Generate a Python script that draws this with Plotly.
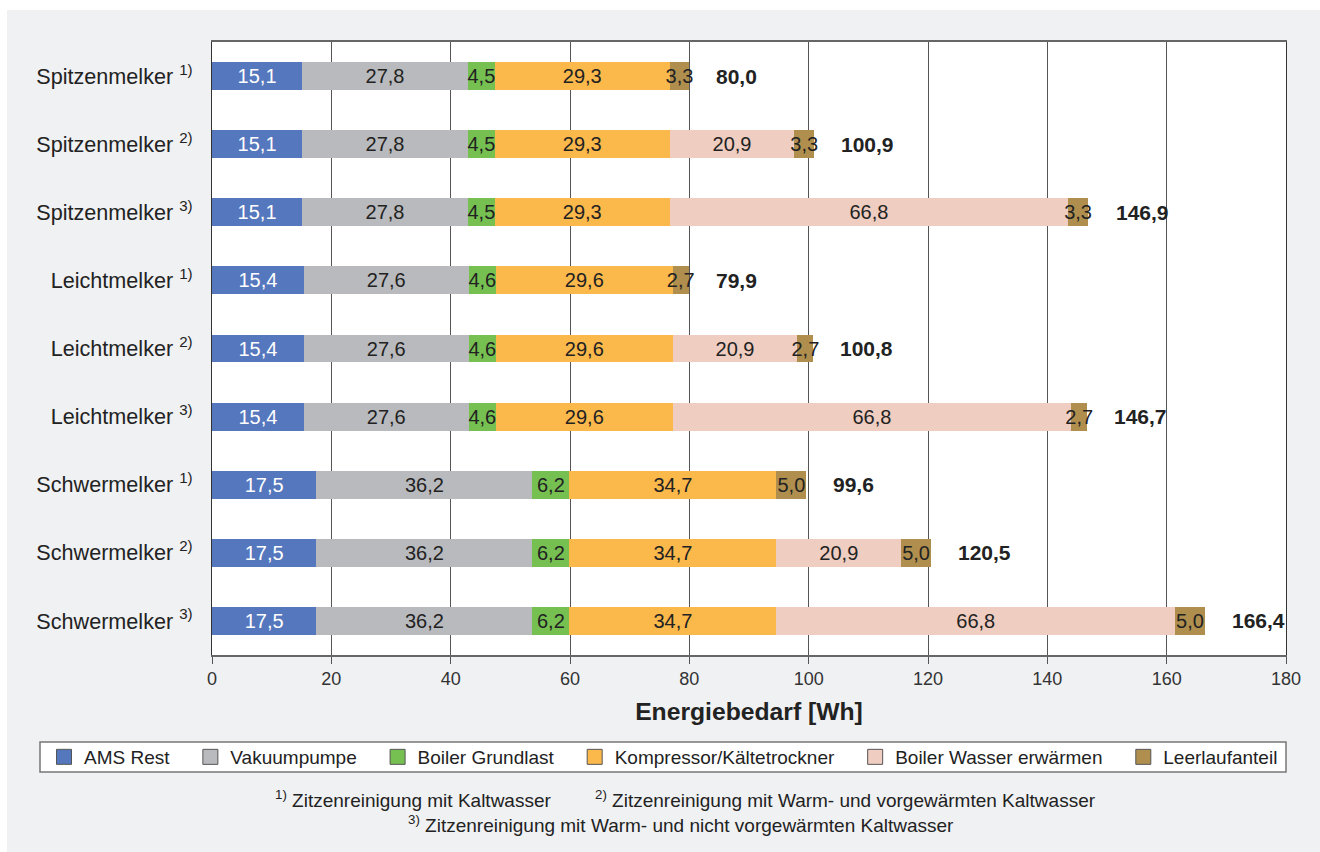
import plotly.graph_objects as go

# Kategorien (von oben nach unten)
categories = [
    "Spitzenmelker <sup>1)</sup>",
    "Spitzenmelker <sup>2)</sup>",
    "Spitzenmelker <sup>3)</sup>",
    "Leichtmelker <sup>1)</sup>",
    "Leichtmelker <sup>2)</sup>",
    "Leichtmelker <sup>3)</sup>",
    "Schwermelker <sup>1)</sup>",
    "Schwermelker <sup>2)</sup>",
    "Schwermelker <sup>3)</sup>",
]

# Energiebedarf je Komponente [Wh]
ams_rest = [15.1, 15.1, 15.1, 15.4, 15.4, 15.4, 17.5, 17.5, 17.5]
vakuumpumpe = [27.8, 27.8, 27.8, 27.6, 27.6, 27.6, 36.2, 36.2, 36.2]
boiler_grundlast = [4.5, 4.5, 4.5, 4.6, 4.6, 4.6, 6.2, 6.2, 6.2]
kompressor = [29.3, 29.3, 29.3, 29.6, 29.6, 29.6, 34.7, 34.7, 34.7]
boiler_wasser = [None, 20.9, 66.8, None, 20.9, 66.8, None, 20.9, 66.8]
leerlauf = [3.3, 3.3, 3.3, 2.7, 2.7, 2.7, 5.0, 5.0, 5.0]
totals = [80.0, 100.9, 146.9, 79.9, 100.8, 146.7, 99.6, 120.5, 166.4]

x_ticks = [0, 20, 40, 60, 80, 100, 120, 140, 160, 180]

series = [
    ("AMS Rest", ams_rest, "#5577bd", "#ffffff"),
    ("Vakuumpumpe", vakuumpumpe, "#b9babd", "#222222"),
    ("Boiler Grundlast", boiler_grundlast, "#76c052", "#222222"),
    ("Kompressor/Kältetrockner", kompressor, "#fbb84b", "#222222"),
    ("Boiler Wasser erwärmen", boiler_wasser, "#efcdc1", "#222222"),
    ("Leerlaufanteil", leerlauf, "#b08f4e", "#222222"),
]

FONT = "Liberation Sans, Arial, Helvetica, sans-serif"
W, H = 1320, 852
ML, MR, MT, MB = 212, 34, 42, 197
PW, PH = W - ML - MR, H - MT - MB


def px_x(xp):
    return (xp - ML) / PW


def px_y(yp):
    return (H - MB - yp) / PH


fig = go.Figure()

pad = "\u00a0" * 3
for i, (name, vals, color, tcolor) in enumerate(series):
    fig.add_trace(go.Bar(
        name=name,
        y=categories,
        x=vals,
        orientation="h",
        marker=dict(color=color, line=dict(width=0)),
        width=0.41,
        text=vals,
        texttemplate="%{x:.1f}",
        textposition="inside",
        insidetextanchor="middle",
        textangle=0,
        textfont=dict(family=FONT, size=20, color=tcolor),
        showlegend=False,
        hoverinfo="skip",
    ))
    # Legendeneintrag mit größerem Quadrat
    fig.add_trace(go.Scatter(
        name=name + (pad if i < len(series) - 1 else ""),
        x=[None], y=[None], mode="markers",
        marker=dict(symbol="square", size=15, color=color,
                    line=dict(color="#555555", width=1)),
        showlegend=True,
    ))

# Summenwerte rechts neben den Balken
for cat, tot in zip(categories, totals):
    fig.add_annotation(
        x=tot, y=cat, xref="x", yref="y",
        text="<b>" + f"{tot:.1f}".replace(".", ",") + "</b>",
        showarrow=False, xanchor="left", xshift=25,
        font=dict(family=FONT, size=21, color="#222222"),
    )

# Fußnoten
foot = dict(family=FONT, size=19, color="#222222")
fig.add_annotation(x=px_x(273), y=px_y(799), xref="paper", yref="paper",
                   text="<sup>1)</sup> Zitzenreinigung mit Kaltwasser",
                   showarrow=False, xanchor="left", yanchor="middle", font=foot)
fig.add_annotation(x=px_x(593), y=px_y(799), xref="paper", yref="paper",
                   text="<sup>2)</sup> Zitzenreinigung mit Warm- und vorgewärmten Kaltwasser",
                   showarrow=False, xanchor="left", yanchor="middle", font=foot)
fig.add_annotation(x=px_x(406), y=px_y(824), xref="paper", yref="paper",
                   text="<sup>3)</sup> Zitzenreinigung mit Warm- und nicht vorgewärmten Kaltwasser",
                   showarrow=False, xanchor="left", yanchor="middle", font=foot)

# weißer Rand oben und links um die graue Fläche
fig.add_shape(type="rect", xref="paper", yref="paper", layer="below",
              x0=px_x(0), x1=px_x(W), y0=px_y(10), y1=px_y(0),
              fillcolor="#ffffff", line=dict(width=0))
fig.add_shape(type="rect", xref="paper", yref="paper", layer="below",
              x0=px_x(0), x1=px_x(7), y0=px_y(H), y1=px_y(0),
              fillcolor="#ffffff", line=dict(width=0))
# Rahmen der Legende
fig.add_shape(type="rect", xref="paper", yref="paper", layer="below",
              x0=px_x(40), x1=px_x(1286), y0=px_y(772), y1=px_y(742),
              fillcolor="#ffffff", line=dict(color="#777777", width=1.5))

fig.update_layout(
    width=W, height=H,
    margin=dict(l=ML, r=MR, t=MT, b=MB, pad=0),
    barmode="stack",
    bargap=0.59,
    separators=",.",
    paper_bgcolor="#f0f1f3",
    plot_bgcolor="#ffffff",
    font=dict(family=FONT, color="#222222"),
    uniformtext=dict(minsize=20, mode="show"),
    showlegend=True,
    legend=dict(
        orientation="h",
        x=px_x(44), y=px_y(757), xanchor="left", yanchor="middle",
        bgcolor="rgba(0,0,0,0)", borderwidth=0,
        font=dict(family=FONT, size=19, color="#222222"),
        itemsizing="trace",
        traceorder="normal",
    ),
    xaxis=dict(
        range=[0, 180], tickvals=x_ticks,
        showgrid=True, gridcolor="#555555", gridwidth=1,
        ticks="outside", ticklen=7, tickcolor="#555555", tickwidth=1,
        showline=True, linecolor="#666666", linewidth=1.5, mirror=True,
        tickfont=dict(family=FONT, size=18, color="#333333"),
        title=dict(text="<b>Energiebedarf [Wh]</b>", standoff=14,
                   font=dict(family=FONT, size=24.7, color="#222222")),
        zeroline=False, fixedrange=True,
    ),
    yaxis=dict(
        categoryorder="array", categoryarray=categories,
        autorange="reversed",
        showline=True, linecolor="#333333", linewidth=1.2, mirror=True,
        ticks="", showgrid=False,
        tickfont=dict(family=FONT, size=21.6, color="#222222"),
        ticklabelstandoff=14,
        fixedrange=True,
    ),
)

fig.write_html("out.html")
